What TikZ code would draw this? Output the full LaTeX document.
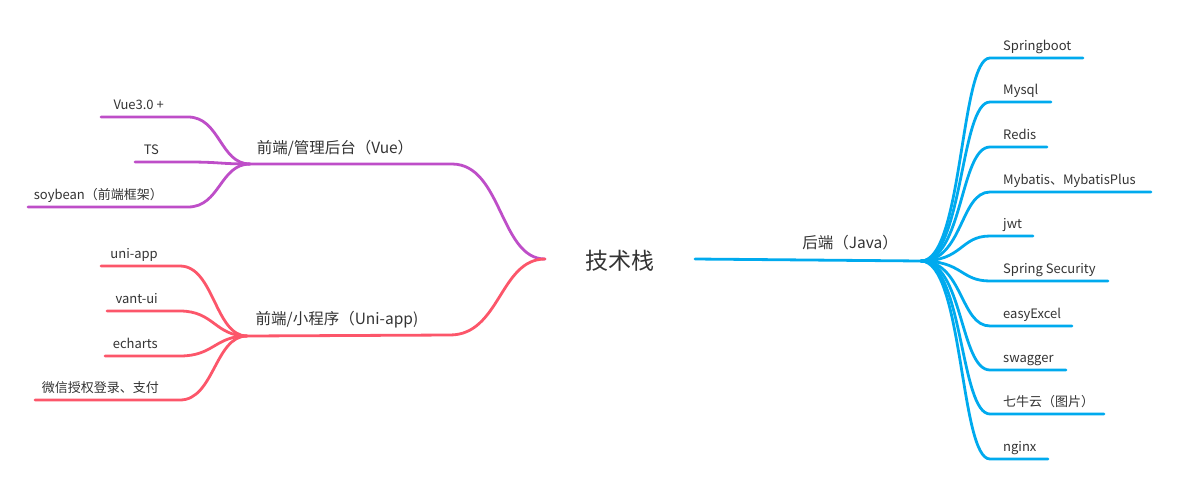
\documentclass[tikz,border=0pt]{standalone}
\usepackage{fontspec}
\setmainfont{Noto Sans CJK SC}
\usetikzlibrary{positioning}
\definecolor{vuepurple}{RGB}{190,78,200}
\definecolor{unired}{RGB}{252,86,106}
\definecolor{javablue}{RGB}{0,170,238}
\definecolor{txtgray}{RGB}{51,51,51}

\begin{document}
\begin{tikzpicture}[
    x=1pt, y=-1pt,
    line cap=round,
    lnk/.style={line width=2.8pt},
    leaf/.style={font=\fontsize{13}{15}\selectfont, text=txtgray, inner sep=0pt},
    mid/.style={font=\fontsize{15.5}{18}\selectfont, text=txtgray, inner sep=0pt},
    rootlab/.style={font=\fontsize{23}{26}\selectfont, text=txtgray, inner sep=0pt},
  ]
  \useasboundingbox (0,0) rectangle (1178,491);

  \node[rootlab] (root) at (620,261) {技术栈};
  \coordinate (rl) at (545,259);
  \coordinate (rr) at (695,259);

  % front end, admin
  \coordinate (vj) at (250,164);
  \coordinate (vk) at (452,164);
  \node[mid] (vue) at (335,148) {前端/管理后台（Vue）};
  \draw[lnk, vuepurple] (vj) -- (vk) .. controls +(50,0) and +(-45,0) .. (rl);
  \foreach \i/\xs/\y/\xe/\txt in {1/101/117/164/{Vue3.0 +},
      2/135/162/159/{TS},
      3/28/207/163/{soybean（前端框架）}} {
      \coordinate (v\i) at (\xs,\y);
      \node[leaf, anchor=base east] (vl\i) at (\xe,\y-8) {\txt};
      \draw[lnk, vuepurple] (v\i) -- (188,\y) .. controls +(32,0) and +(-30,0) .. (vj);
    }

  % front end, mini program
  \coordinate (uj) at (247,336);
  \coordinate (uk) at (450,335);
  \node[mid] (uni) at (337,320) {前端/小程序（Uni-app)};
  \draw[lnk, unired] (uj) -- (uk) .. controls +(50,0) and +(-45,0) .. (rl);
  \foreach \i/\xs/\y/\xe/\txt in {1/101/266/158/{uni-app},
      2/107/311/158/{vant-ui},
      3/105/356/158/{echarts},
      4/35/400/159/{微信授权登录、支付}} {
      \coordinate (u\i) at (\xs,\y);
      \node[leaf, anchor=base east] (ul\i) at (\xe,\y-8) {\txt};
      \draw[lnk, unired] (u\i) -- (180,\y) .. controls +(34,0) and +(-32,0) .. (uj);
    }

  % back end
  \coordinate (bj) at (921,261);
  \node[mid] (java) at (850,243) {后端（Java）};
  \draw[lnk, javablue] (rr) -- (bj);
  \foreach \i/\y/\xe/\txt in {1/58/1083/{Springboot},
      2/102/1051/{Mysql},
      3/147/1047/{Redis},
      4/192/1151/{Mybatis、MybatisPlus},
      5/236/1033/{jwt},
      6/281/1108/{Spring Security},
      7/326/1072/{easyExcel},
      8/370/1066/{swagger},
      9/414/1104/{七牛云（图片）},
      10/459/1048/{nginx}} {
      \coordinate (b\i) at (990,\y);
      \node[leaf, anchor=base west] (bl\i) at (1003,\y-8) {\txt};
      \draw[lnk, javablue] (bj) .. controls +(42,0) and +(-30,0) .. (b\i) -- (\xe,\y);
    }
\end{tikzpicture}
\end{document}
